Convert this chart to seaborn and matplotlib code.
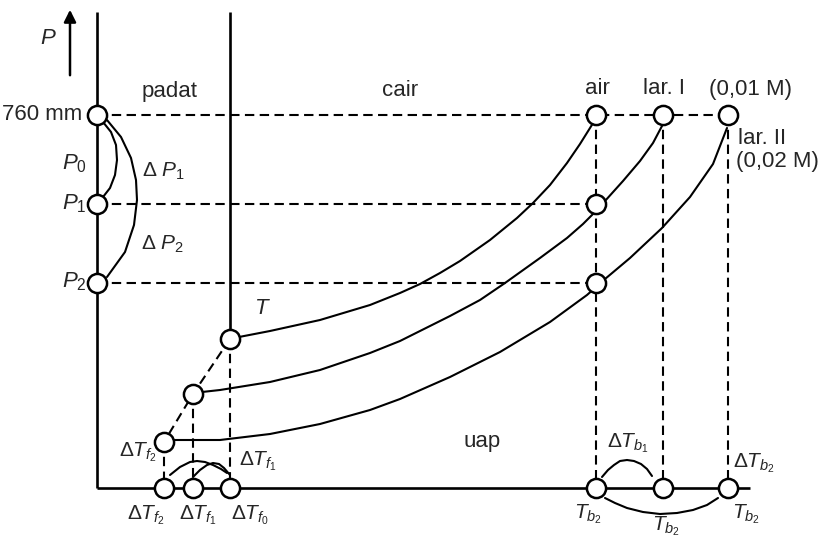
import numpy as np
import pandas as pd
import seaborn as sns
import matplotlib.pyplot as plt

# schematic phase diagram, coordinates (pixels, y down)
axis_x = 97
axis_y = 488
top_y = 12
right_end = 750

p_levels = [115, 204, 283]          # 760 mm, P1, P2
tb_x = [596, 663, 728]              # air, lar. I, lar. II
tf_x = [230, 193, 164]              # triple points
tf_y = [339, 394, 442]

curve_air_x = [239, 270, 320, 370, 400, 420, 440, 460, 490, 517, 533, 550, 567, 580, 590, 595]
curve_air_y = [337, 331, 320, 305, 293, 284, 273, 261, 240, 218, 203, 185, 163, 144, 128, 120]

curve_lar1_x = [202, 220, 270, 320, 370, 400, 450, 480, 505, 540, 567, 583, 596, 605, 623, 640, 653, 662]
curve_lar1_y = [392, 390, 382, 370, 353, 341, 316, 300, 283, 258, 238, 224, 211, 201, 181, 161, 143, 126]

curve_lar2_x = [173, 220, 270, 320, 370, 400, 450, 500, 550, 587, 596, 605, 630, 662, 690, 713, 727]
curve_lar2_y = [440, 440, 434, 424, 410, 399, 377, 352, 322, 295, 287, 279, 258, 228, 197, 164, 128]

arc_p1_x = [103, 111, 116, 117, 115, 110, 103]
arc_p1_y = [122, 132, 145, 160, 175, 188, 197]
arc_p2_x = [107, 121, 131, 136, 137, 134, 125, 107]
arc_p2_y = [120, 137, 158, 180, 200, 225, 252, 277]

arc_f1_x = [170, 180, 190, 197, 205, 213, 221, 227]
arc_f1_y = [475, 467, 462, 461, 462, 465, 469, 473]
arc_f0_x = [193, 200, 207, 213, 219, 224, 230]
arc_f0_y = [477, 470, 465, 463, 464, 468, 475]

arc_b1_x = [602, 608, 614, 620, 627, 634, 641, 647, 652]
arc_b1_y = [477, 470, 465, 461, 460, 461, 464, 469, 476]
arc_b2_x = [605, 615, 627, 643, 660, 677, 693, 707, 718]
arc_b2_y = [498, 503, 508, 512, 514, 513, 510, 505, 498]

circle_x = [axis_x] * 3 + tb_x + [tb_x[0], tb_x[0]] + tf_x + tf_x + tb_x
circle_y = p_levels + [p_levels[0]] * 3 + p_levels[1:] + tf_y + [axis_y] * 3 + [axis_y] * 3

sns.set_theme(style="white")
plt.rcParams['font.family'] = ['Liberation Sans', 'DejaVu Sans']
plt.rcParams['mathtext.fontset'] = 'custom'
plt.rcParams['mathtext.rm'] = 'Liberation Sans'
plt.rcParams['mathtext.it'] = 'Liberation Sans:italic'

fig = plt.figure(figsize=(8.2, 5.39), dpi=100)
ax = fig.add_axes([0, 0, 1, 1])
ax.set_xlim(0, 820)
ax.set_ylim(539, 0)
ax.axis("off")

solid = dict(color="black", lw=1.9, solid_capstyle="butt")
dash = dict(color="black", lw=1.5, dashes=(4.5, 2.6))
thin = dict(color="black", lw=1.5, solid_joinstyle="round")

# frame lines
ax.plot([axis_x, axis_x], [top_y, axis_y], **solid)
ax.plot([axis_x, right_end], [axis_y, axis_y], **solid)
ax.plot([tf_x[0], tf_x[0]], [top_y, tf_y[0]], **solid)

# dashed guides
ax.plot([axis_x, tb_x[2]], [p_levels[0]] * 2, **dash)
ax.plot([axis_x, tb_x[0]], [p_levels[1]] * 2, **dash)
ax.plot([axis_x, tb_x[0]], [p_levels[2]] * 2, **dash)
for xb in tb_x:
    ax.plot([xb, xb], [p_levels[0], axis_y], **dash)
for xf, yf in zip(tf_x, tf_y):
    ax.plot([xf, xf], [yf, axis_y], **dash)
ax.plot(tf_x, tf_y, **dash)

# vapour pressure curves
for cx, cy in [(curve_air_x, curve_air_y), (curve_lar1_x, curve_lar1_y),
               (curve_lar2_x, curve_lar2_y)]:
    sns.lineplot(x=cx, y=cy, sort=False, estimator=None, ax=ax, **thin)

# arcs marking the differences
for cx, cy in [(arc_p1_x, arc_p1_y), (arc_p2_x, arc_p2_y), (arc_f1_x, arc_f1_y),
               (arc_f0_x, arc_f0_y), (arc_b1_x, arc_b1_y), (arc_b2_x, arc_b2_y)]:
    sns.lineplot(x=cx, y=cy, sort=False, estimator=None, ax=ax, **thin)

# circles
sns.scatterplot(x=circle_x, y=circle_y, s=190, color="white", edgecolor="black",
                linewidth=1.8, zorder=5, ax=ax)

# pressure arrow
ax.annotate("", xy=(70, 7), xytext=(70, 78),
            arrowprops=dict(arrowstyle="-|>", lw=1.8, color="black", mutation_scale=18))

fs = 15
fw = 16
ax.text(48, 38, "$P$", fontsize=fw, ha="center", va="center")
ax.text(170, 91, "padat", fontsize=fw, ha="center", va="center")
ax.text(400, 91, "cair", fontsize=fw, ha="center", va="center")
ax.text(597, 89, "air", fontsize=fw, ha="center", va="center")
ax.text(664, 89, "lar. I", fontsize=fw, ha="center", va="center")
ax.text(751, 89, "(0,01 M)", fontsize=fw, ha="center", va="center")
ax.text(738, 138, "lar. II", fontsize=fw, ha="left", va="center")
ax.text(736, 161, "(0,02 M)", fontsize=fw, ha="left", va="center")
ax.text(82, 114, "760 mm", fontsize=fw, ha="right", va="center")
ax.text(87, 164, "$P_{\\mathrm{0}}$", fontsize=fw, ha="right", va="center")
ax.text(87, 204, "$P_{\\mathrm{1}}$", fontsize=fw, ha="right", va="center")
ax.text(87, 282, "$P_{\\mathrm{2}}$", fontsize=fw, ha="right", va="center")
ax.text(142, 171, "Δ $P_{\\mathrm{1}}$", fontsize=fs, ha="left", va="center")
ax.text(141, 244, "Δ $P_{\\mathrm{2}}$", fontsize=fs, ha="left", va="center")
ax.text(262, 309, "$T$", fontsize=fw, ha="center", va="center")
ax.text(119, 452, "Δ$T_{f_2}$", fontsize=fs, ha="left", va="center")
ax.text(239, 461, "Δ$T_{f_1}$", fontsize=fs, ha="left", va="center")
ax.text(482, 442, "uap", fontsize=fw, ha="center", va="center")
ax.text(607, 443, "Δ$T_{b_1}$", fontsize=fs, ha="left", va="center")
ax.text(733, 463, "Δ$T_{b_2}$", fontsize=fs, ha="left", va="center")
ax.text(127, 515, "Δ$T_{f_2}$", fontsize=fs, ha="left", va="center")
ax.text(179, 515, "Δ$T_{f_1}$", fontsize=fs, ha="left", va="center")
ax.text(231, 515, "Δ$T_{f_0}$", fontsize=fs, ha="left", va="center")
ax.text(574, 514, "$T_{b_2}$", fontsize=fs, ha="left", va="center")
ax.text(652, 526, "$T_{b_2}$", fontsize=fs, ha="left", va="center")
ax.text(732, 514, "$T_{b_2}$", fontsize=fs, ha="left", va="center")

fig.savefig("out.png", dpi=100, facecolor="white")
